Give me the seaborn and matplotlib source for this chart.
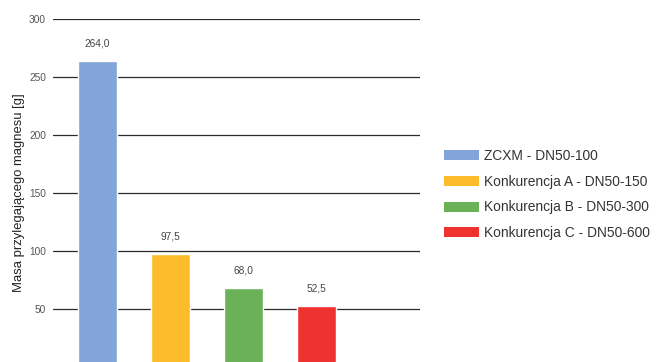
import matplotlib
matplotlib.use("Agg")
import matplotlib.pyplot as plt
import seaborn as sns
import pandas as pd

# Data
categories = ["ZCXM - DN50-100", "Konkurencja A - DN50-150",
              "Konkurencja B - DN50-300", "Konkurencja C - DN50-600"]
values = [264.0, 97.5, 68.0, 52.5]
value_labels = ["264,0", "97,5", "68,0", "52,5"]
colors = ["#82A4D8", "#FDBC2C", "#6BB158", "#EE322F"]
y_ticks = [0, 50, 100, 150, 200, 250, 300]
y_label = "Masa przylegającego magnesu [g]"

sns.set_theme(style="white")
plt.rcParams["font.family"] = ["Liberation Sans", "DejaVu Sans"]

df = pd.DataFrame({"kategoria": categories, "masa": values})

W, H = 656, 362
fig = plt.figure(figsize=(W / 100, H / 100), dpi=100)
# axes in pixel terms: left 53, right 420, top (300) at 19, bottom (0) at 367
ax = fig.add_axes([53 / W, (H - 367) / H, (420 - 53) / W, 348 / H])

sns.barplot(data=df, x="kategoria", y="masa", hue="kategoria",
            palette=colors, width=0.534, dodge=False, legend=False,
            saturation=1, ax=ax, zorder=3)

ax.set_xlim(-0.61, 4.42)
ax.set_ylim(0, 300)
ax.set_yticks(y_ticks)
ax.set_yticklabels([str(t) for t in y_ticks], fontsize=7.3, color="#555555")
ax.tick_params(axis="y", length=0, pad=5)
ax.set_xticks([])
ax.set_xlabel("")
ax.set_ylabel(y_label, fontsize=9.4, color="#222222", labelpad=3)
ax.yaxis.grid(True, color="#2a2a2a", linewidth=0.9, zorder=0)
ax.set_axisbelow(True)
for s in ax.spines.values():
    s.set_visible(False)

for i, (v, lab) in enumerate(zip(values, value_labels)):
    ax.annotate(lab, xy=(i, v), xytext=(0, 9), textcoords="offset points",
                ha="center", va="bottom", fontsize=7.3, color="#444444")

handles = [plt.Rectangle((0, 0), 1, 1, facecolor=c, edgecolor="none") for c in colors]
leg = fig.legend(handles, categories, loc="upper left",
                 bbox_to_anchor=(441 / W, 1 - 146 / H), frameon=False,
                 fontsize=9.9, handlelength=2.55, handleheight=0.75,
                 handletextpad=0.36, labelspacing=0.86, borderaxespad=0,
                 borderpad=0.2)
for t in leg.get_texts():
    t.set_color("#333333")

fig.savefig("out.png", dpi=100)
